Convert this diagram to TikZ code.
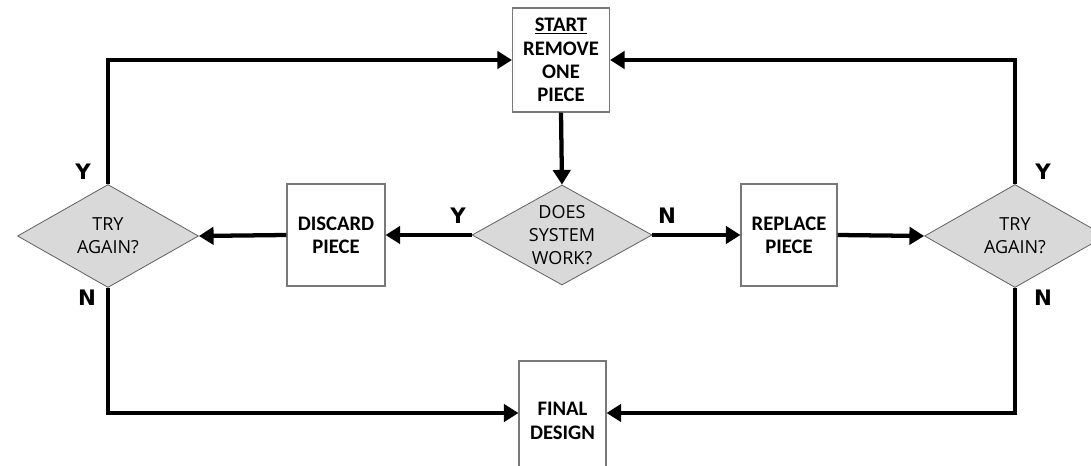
\documentclass[tikz,border=0pt]{standalone}
\usepackage{fontspec}
\setmainfont{Carlito}
\newfontfamily\diafont{Open Sans}
\newfontfamily\ynfont{DejaVu Sans}
\usetikzlibrary{shapes.geometric,arrows.meta}
\definecolor{diafill}{RGB}{217,217,217}
\definecolor{boxline}{RGB}{120,120,120}
\begin{document}
\begin{tikzpicture}[x=0.75pt,y=-0.75pt,
  box/.style={draw=boxline, line width=0.8pt, fill=white, align=center, inner sep=0pt,
    font=\bfseries\fontsize{15.5}{17.5}\selectfont},
  dia/.style={diamond, shape aspect=1.8, draw=boxline!80!black, line width=0.6pt, fill=diafill, align=center, inner sep=0pt,
    font=\diafont\fontsize{13.5}{17}\selectfont},
  flow/.style={line width=3.2pt, -{Triangle[length=11pt,width=13pt]}},
  yn/.style={font=\ynfont\bfseries\fontsize{16}{18}\selectfont}]
\useasboundingbox (0,0) rectangle (1091,466);
\clip (0,0) rectangle (1091,466);
\fill[white] (0,0) rectangle (1091,466);
% nodes
\node[box, minimum width=72.75pt, minimum height=78pt] (S) at (561,60) {\underline{START}\\REMOVE\\ONE\\PIECE};
\node[dia, minimum width=135pt, minimum height=75pt] (D) at (562,235) {DOES\\SYSTEM\\WORK?};
\node[box, minimum width=73.5pt, minimum height=76.5pt] (DC) at (336,235) {DISCARD\\PIECE};
\node[box, minimum width=72pt, minimum height=76.5pt] (RP) at (789,235) {REPLACE\\PIECE};
\node[dia, minimum width=135.75pt, minimum height=77.25pt] (L) at (108,236) {TRY\\AGAIN?};
\node[dia, minimum width=135.75pt, minimum height=77.25pt] (R) at (1015,236) {TRY\\AGAIN?};
\node[box, minimum width=65.25pt, minimum height=90pt] (F) at (562.5,421) {FINAL\\DESIGN};
% connectors
\draw[flow] (L.north) |- (S.west);
\draw[flow] (R.north) |- (S.east);
\draw[flow] (S.south) -- (D.north);
\draw[flow] (D.west) -- (DC.east);
\draw[flow] (DC.west) -- (L.east);
\draw[flow] (D.east) -- (RP.west);
\draw[flow] (RP.east) -- (R.west);
\draw[flow] (L.south) |- ([yshift=6pt]F.west);
\draw[flow] (R.south) |- ([yshift=6pt]F.east);
% labels
\node[yn] (ly) at (83,172) {Y};
\node[yn] (ln) at (87,298) {N};
\node[yn] (dy) at (458,216) {Y};
\node[yn] (dn) at (667,216) {N};
\node[yn] (ry) at (1043,172) {Y};
\node[yn] (rn) at (1043,298) {N};
\end{tikzpicture}
\end{document}
